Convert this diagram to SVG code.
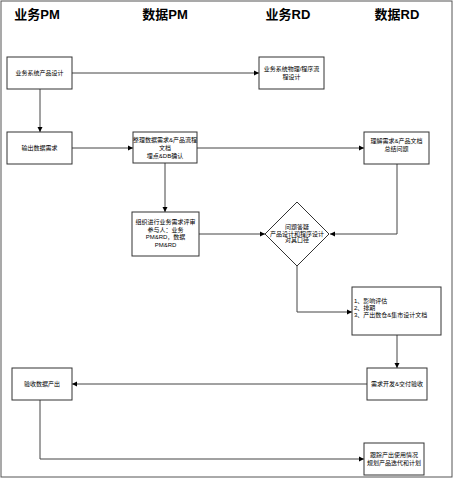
<svg xmlns="http://www.w3.org/2000/svg" width="454" height="479" viewBox="0 0 454 479">
<style>
text{font-family:"Liberation Sans","Noto Sans CJK SC",sans-serif;fill:#000}
.h{font-size:13px;font-weight:bold;text-anchor:middle}
.t{font-size:6px;text-anchor:middle}
.l{font-size:6px}
.box{fill:#fff;stroke:#333;stroke-width:1}
.c{fill:none;stroke:#444;stroke-width:1}
</style>
<defs>
<marker id="a" markerWidth="6" markerHeight="6" refX="5" refY="3" orient="auto" markerUnits="userSpaceOnUse">
<path d="M0,0.5 L5,3 L0,5.5 Z" fill="#000"/>
</marker>
</defs>
<rect width="454" height="479" fill="#fff"/>
<rect x="1" y="1" width="451" height="476" fill="none" stroke="#555" stroke-width="1"/>
<g id="headers">
<text class="h" x="37" y="19">业务PM</text>
<text class="h" x="165" y="19">数据PM</text>
<text class="h" x="288" y="19">业务RD</text>
<text class="h" x="397" y="19">数据RD</text>
</g>
<g id="connectors">
<path class="c" d="M72,73 H259" marker-end="url(#a)"/>
<path class="c" d="M40,89 V132" marker-end="url(#a)"/>
<path class="c" d="M72,148 H133" marker-end="url(#a)"/>
<path class="c" d="M197,148 H364" marker-end="url(#a)"/>
<path class="c" d="M165,163 V212" marker-end="url(#a)"/>
<path class="c" d="M199,234 H265" marker-end="url(#a)"/>
<path class="c" d="M397,164 V234 H330" marker-end="url(#a)"/>
<path class="c" d="M297,266 V312 H352" marker-end="url(#a)"/>
<path class="c" d="M397,335 V368" marker-end="url(#a)"/>
<path class="c" d="M367,384 H72" marker-end="url(#a)"/>
<path class="c" d="M40,400 V459 H364" marker-end="url(#a)"/>
</g>
<g id="n1">
<rect class="box" x="7" y="57" width="65" height="32"/>
<text class="t" x="39.5" y="75">业务系统产品设计</text>
</g>
<g id="n2">
<rect class="box" x="7" y="132" width="65" height="32"/>
<text class="t" x="39.5" y="150">输出数据需求</text>
</g>
<g id="n3">
<rect class="box" x="133" y="132" width="64" height="31"/>
<text class="t" x="165" y="142">整理数据需求&amp;产品流程</text>
<text class="t" x="165" y="150">文档</text>
<text class="t" x="165" y="157.5">埋点&amp;DB确认</text>
</g>
<g id="n4">
<rect class="box" x="259" y="57" width="65" height="32"/>
<text class="t" x="291.5" y="71">业务系统物理/程序流</text>
<text class="t" x="291.5" y="79">程设计</text>
</g>
<g id="n5">
<rect class="box" x="364" y="132" width="65" height="32"/>
<text class="t" x="396.5" y="143">理解需求&amp;产品文档</text>
<text class="t" x="396.5" y="150.5">总结问题</text>
</g>
<g id="n6">
<rect class="box" x="132" y="212" width="67" height="44"/>
<text class="t" x="165.5" y="224">组织进行业务需求评审</text>
<text class="t" x="165.5" y="231.5">参与人：业务</text>
<text class="t" x="165.5" y="239">PM&amp;RD，数据</text>
<text class="t" x="165.5" y="246.5">PM&amp;RD</text>
</g>
<g id="n7">
<path class="box" d="M297,202 L329,234 L297,266 L265,234 Z"/>
<text class="t" x="297" y="229">问题答疑</text>
<text class="t" x="297" y="235.5">产品设计和程序设计</text>
<text class="t" x="297" y="242">对其口径</text>
</g>
<g id="n8">
<rect class="box" x="352" y="287" width="89" height="48"/>
<text class="l" x="354" y="303">1、影响评估</text>
<text class="l" x="354" y="310">2、排期</text>
<text class="l" x="354" y="317">3、产出数仓&amp;集市设计文档</text>
</g>
<g id="n9">
<rect class="box" x="367" y="368" width="60" height="32"/>
<text class="t" x="397" y="386">需求开发&amp;交付验收</text>
</g>
<g id="n10">
<rect class="box" x="12" y="368" width="60" height="32"/>
<text class="t" x="42" y="386">验收数据产出</text>
</g>
<g id="n11">
<rect class="box" x="364" y="443" width="60" height="32"/>
<text class="t" x="394" y="457">跟踪产出使用情况</text>
<text class="t" x="394" y="465">规划产品迭代和计划</text>
</g>
</svg>
